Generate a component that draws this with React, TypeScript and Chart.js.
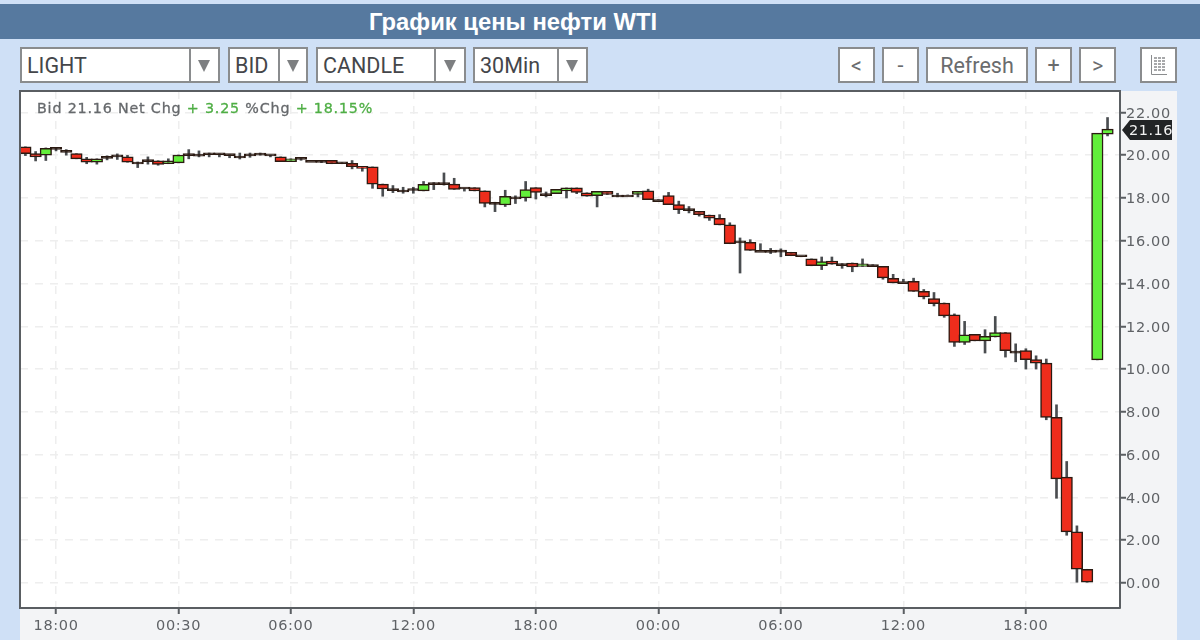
import React, { useEffect, useRef } from "react";
import { Chart, registerables } from "chart.js";

Chart.register(...registerables);

const opens = [20.39,20.07,20.0,20.3,20.17,20.07,19.83,19.67,19.85,19.92,19.92,19.68,19.7,19.74,19.6,19.64,20.07,20.05,20.04,20.03,20.0,19.96,19.97,20.0,19.99,19.92,19.7,19.83,19.76,19.76,19.76,19.62,19.62,19.47,19.45,18.65,18.36,18.37,18.35,18.33,18.72,18.72,18.65,18.44,18.48,18.33,17.72,17.67,18.05,18.0,18.48,18.2,18.2,18.33,18.47,18.24,18.11,18.31,18.14,18.14,18.16,18.33,17.92,18.11,17.69,17.43,17.37,17.2,17.05,16.74,15.92,15.92,15.55,15.55,15.5,15.46,15.27,15.15,14.83,15.05,14.93,14.96,14.8,14.88,14.8,14.24,14.09,14.1,13.63,13.3,13.09,12.53,11.25,11.62,11.32,11.5,11.71,10.84,10.86,10.44,10.28,7.74,4.95,2.39,0.64,10.43,20.98];
const closes = [20.07,19.92,20.32,20.27,20.13,19.83,19.67,19.83,19.87,19.94,19.67,19.68,19.73,19.57,19.74,20.01,20.07,20.05,20.02,20.02,19.98,19.96,19.99,20.02,19.97,19.7,19.83,19.8,19.76,19.76,19.6,19.6,19.46,19.38,18.64,18.42,18.34,18.37,18.37,18.64,18.72,18.72,18.4,18.42,18.33,17.74,17.7,18.08,18.05,18.39,18.26,18.2,18.4,18.47,18.26,18.08,18.31,18.16,18.14,18.14,18.31,17.92,17.92,17.69,17.45,17.41,17.22,17.05,16.74,15.86,15.9,15.55,15.55,15.55,15.47,15.3,15.25,14.83,15.03,14.9,14.93,14.77,14.92,14.88,14.26,14.03,14.09,13.63,13.37,13.06,12.49,11.25,11.6,11.32,11.53,11.71,10.86,10.84,10.44,10.28,7.74,4.87,2.39,0.64,0.0,21.03,21.22];
const highs = [20.39,20.17,20.34,20.33,20.26,20.07,19.9,19.83,19.97,20.06,19.99,19.68,19.92,19.74,19.83,20.01,20.26,20.2,20.1,20.06,20.02,20.1,20.1,20.1,20.0,19.92,19.83,19.85,19.76,19.76,19.76,19.65,19.75,19.47,19.45,18.65,18.58,18.5,18.5,18.77,18.72,19.17,18.92,18.44,18.48,18.33,17.8,18.36,18.1,18.77,18.48,18.28,18.4,18.47,18.47,18.24,18.31,18.31,18.22,18.14,18.31,18.41,17.92,18.26,17.85,17.6,17.37,17.2,17.22,16.84,16.13,16.05,15.86,15.64,15.62,15.46,15.27,15.15,15.24,15.24,14.93,14.96,15.15,14.88,14.8,14.43,14.2,14.25,13.72,13.58,13.09,12.58,12.23,11.62,11.84,12.46,11.71,11.18,10.95,10.62,10.47,8.33,5.68,2.67,0.64,10.43,21.76];
const lows = [19.98,19.73,19.75,20.2,20.0,19.83,19.6,19.58,19.78,19.8,19.67,19.42,19.58,19.53,19.6,19.64,19.83,19.92,19.92,19.92,19.88,19.82,19.9,20.0,19.92,19.7,19.7,19.76,19.76,19.65,19.6,19.6,19.36,19.25,18.45,18.08,18.25,18.22,18.22,18.33,18.39,18.6,18.4,18.32,18.33,17.58,17.36,17.6,17.74,17.85,17.95,18.05,18.2,18.0,18.2,18.08,17.58,18.16,18.05,18.14,18.05,17.92,17.92,17.69,17.27,17.3,17.15,16.95,16.74,15.86,14.49,15.55,15.55,15.4,15.25,15.3,15.25,14.83,14.65,14.9,14.71,14.55,14.8,14.85,14.2,14.03,14.09,13.63,13.28,12.95,12.42,11.06,11.15,11.32,10.75,11.5,10.56,10.34,10.0,10.0,7.63,3.96,2.23,0.0,0.0,10.43,20.9];
const xTickIndex = [3, 15, 26, 38, 50, 62, 74, 86, 98];
const xTickLabels = ["18:00", "00:30", "06:00", "12:00", "18:00", "00:00", "06:00", "12:00", "18:00"];
const yTickValues = [0, 2, 4, 6, 8, 10, 12, 14, 16, 18, 20, 22];
const lastPrice = 21.16;
const selectors = [
  { text: "LIGHT", left: 20, width: 200, divider: 167 },
  { text: "BID", left: 228, width: 80, divider: 48 },
  { text: "CANDLE", left: 316, width: 150, divider: 116 },
  { text: "30Min", left: 473, width: 115, divider: 82 },
];
const buttons = [
  { text: "<", left: 838, width: 37 },
  { text: "-", left: 882, width: 37 },
  { text: "Refresh", left: 926, width: 102 },
  { text: "+", left: 1035, width: 37 },
  { text: ">", left: 1079, width: 37 },
];

const AXIS_FONT = "'DejaVu Sans'";
const RED = "#ee2d1c";
const GREEN = "#62ee3a";
const EDGE = "#2b1a12";
const AXIS = "#5a5e62";
const TICK_TEXT = "#5f6266";
const GRID = "#eeeeee";

const frame: any = {
  id: "frame",
  beforeDraw(chart: any) {
    const { ctx, chartArea: a } = chart;
    ctx.save();
    ctx.fillStyle = "#ffffff";
    ctx.fillRect(a.left, a.top, a.width, a.height);
    ctx.restore();
    ctx.letterSpacing = "0.65px";
  },
  afterDraw(chart: any) {
    const { ctx, chartArea: a, scales } = chart;
    ctx.save();
    ctx.strokeStyle = AXIS;
    ctx.lineWidth = 2;
    ctx.beginPath();
    ctx.moveTo(a.left, a.bottom);
    ctx.lineTo(a.left, a.top);
    ctx.lineTo(a.right, a.top);
    ctx.stroke();
    const y = Math.round(scales.y.getPixelForValue(lastPrice));
    const l = a.right + 2;
    ctx.fillStyle = "#222426";
    ctx.beginPath();
    ctx.moveTo(l, y);
    ctx.lineTo(l + 8, y - 10);
    ctx.lineTo(l + 50, y - 10);
    ctx.lineTo(l + 50, y + 10);
    ctx.lineTo(l + 8, y + 10);
    ctx.closePath();
    ctx.fill();
    ctx.fillStyle = "#f2f2f2";
    ctx.font = `14.5px ${AXIS_FONT}`;
    ctx.letterSpacing = "0.5px";
    ctx.textAlign = "left";
    ctx.textBaseline = "middle";
    ctx.fillText(lastPrice.toFixed(2), l + 7, y + 1);
    ctx.restore();
  },
};

export default function App() {
  const ref = useRef<HTMLCanvasElement | null>(null);

  useEffect(() => {
    const xs = opens.map((_, i) => i);
    const colors = opens.map((o, i) =>
      Math.abs(closes[i] - o) < 0.08 ? EDGE : closes[i] >= o ? GREEN : RED
    );
    const chart = new Chart(ref.current as HTMLCanvasElement, {
      type: "bar",
      data: {
        datasets: [
          {
            label: "Body",
            data: xs.map((i) => ({ x: i, y: [opens[i], closes[i]] })) as any,
            backgroundColor: colors,
            borderColor: EDGE,
            borderWidth: 1.5,
            borderSkipped: false,
            barThickness: 11.5,
            minBarLength: 2,
            grouped: false,
            order: 1,
          } as any,
          {
            label: "Range",
            data: xs.map((i) => ({ x: i, y: [lows[i], highs[i]] })) as any,
            backgroundColor: "#4a4d50",
            barThickness: 2,
            grouped: false,
            order: 2,
          } as any,
        ],
      },
      options: {
        responsive: false,
        animation: false,
        layout: { autoPadding: false, padding: { left: 2, top: 2, right: 0, bottom: 0 } },
        plugins: { legend: { display: false }, tooltip: { enabled: false } },
        scales: {
          x: {
            type: "linear",
            offset: false,
            min: -0.53,
            max: 107.22,
            afterBuildTicks(s: any) {
              s.ticks = xTickIndex.map((value) => ({ value }));
            },
            afterFit(s: any) {
              s.height = 32;
              s.paddingLeft = 0;
              s.paddingRight = 0;
            },
            ticks: {
              autoSkip: false,
              maxRotation: 0,
              padding: 4,
              color: TICK_TEXT,
              font: { family: AXIS_FONT, size: 14.5 },
              callback: (v: any) => xTickLabels[xTickIndex.indexOf(Number(v))] ?? "",
            },
            grid: { color: GRID, lineWidth: 1.5, tickColor: AXIS, tickWidth: 2, tickLength: 6, offset: false },
            border: { color: AXIS, width: 2, dash: [8, 7] },
          },
          y: {
            position: "right",
            min: -1.17,
            max: 23,
            afterBuildTicks(s: any) {
              s.ticks = yTickValues.map((value) => ({ value }));
            },
            afterFit(s: any) {
              s.width = 57;
              s.paddingTop = 0;
              s.paddingBottom = 0;
            },
            ticks: {
              padding: 0,
              color: TICK_TEXT,
              font: { family: AXIS_FONT, size: 14.5, lineHeight: 0.2 },
              callback: (v: any) => ["", Number(v).toFixed(2)],
            },
            grid: { color: GRID, lineWidth: 1.5, tickColor: AXIS, tickWidth: 2, tickLength: 6 },
            border: { color: AXIS, width: 2, dash: [8, 7] },
          },
        },
      } as any,
      plugins: [frame],
    });
    return () => chart.destroy();
  }, []);

  const box: React.CSSProperties = {
    position: "absolute",
    top: 47,
    height: 36,
    boxSizing: "border-box",
    background: "#ffffff",
    border: "2px solid #8a8c8e",
    fontFamily: "Roboto",
    fontSize: 21.5,
    color: "#44464a",
    lineHeight: "34px",
  };

  return (
    <div style={{ position: "fixed", left: 0, top: 0, width: 1200, height: 640, overflow: "hidden", background: "#cfe0f6" }}>
      <div
        style={{
          position: "absolute",
          left: 0,
          top: 4,
          width: 1200,
          height: 35,
          background: "#56799f",
          color: "#ffffff",
          fontFamily: "'Liberation Sans'",
          fontWeight: 700,
          fontSize: 23.8,
          lineHeight: "35px",
        }}
      >
        <span style={{ position: "absolute", left: 369, whiteSpace: "nowrap" }}>График цены нефти WTI</span>
      </div>

      {selectors.map((s) => (
        <div key={s.text} style={{ ...box, left: s.left, width: s.width }}>
          <span style={{ position: "absolute", left: 5 }}>{s.text}</span>
          <span style={{ position: "absolute", left: s.divider, top: 0, bottom: 0, borderLeft: "2px solid #8a8c8e" }} />
          <span
            style={{
              position: "absolute",
              left: s.divider + 2 + (s.width - s.divider - 6 - 13) / 2,
              top: 11,
              width: 0,
              height: 0,
              borderLeft: "6.5px solid transparent",
              borderRight: "6.5px solid transparent",
              borderTop: "12px solid #7d7f81",
            }}
          />
        </div>
      ))}

      {buttons.map((b) => (
        <div key={b.text} style={{ ...box, left: b.left, width: b.width, textAlign: "center", color: "#6a6c6e" }}>
          {b.text}
        </div>
      ))}

      <div style={{ ...box, left: 1140, width: 37 }}>
        <svg width="33" height="32" style={{ position: "absolute", left: 0, top: 0 }}>
          <path d="M9.5 6V25.5H25" stroke="#8a8c8e" strokeWidth="1" fill="none" />
          <path
            d="M12 9H24M12 12H24M12 15H24M12 18H24M12 21H24"
            stroke="#8a8c8e"
            strokeWidth="1.5"
            strokeDasharray="3 1"
            fill="none"
          />
        </svg>
      </div>

      <div style={{ position: "absolute", left: 20, top: 91, width: 1157, height: 549, background: "#f3f4f6" }} />
      <canvas ref={ref} width={1159} height={551} style={{ position: "absolute", left: 18, top: 89, width: 1159, height: 551 }} />

      <div
        style={{
          position: "absolute",
          left: 37,
          top: 99,
          whiteSpace: "nowrap",
          fontFamily: AXIS_FONT,
          fontSize: 14.3,
          letterSpacing: "0.81px",
          color: "#66696c",
          lineHeight: "18px",
          WebkitTextStroke: "0.3px currentColor",
        }}
      >
        Bid 21.16 Net Chg <span style={{ color: "#4fae45" }}>+ 3.25</span> %Chg{" "}
        <span style={{ color: "#4fae45" }}>+ 18.15%</span>
      </div>
    </div>
  );
}
